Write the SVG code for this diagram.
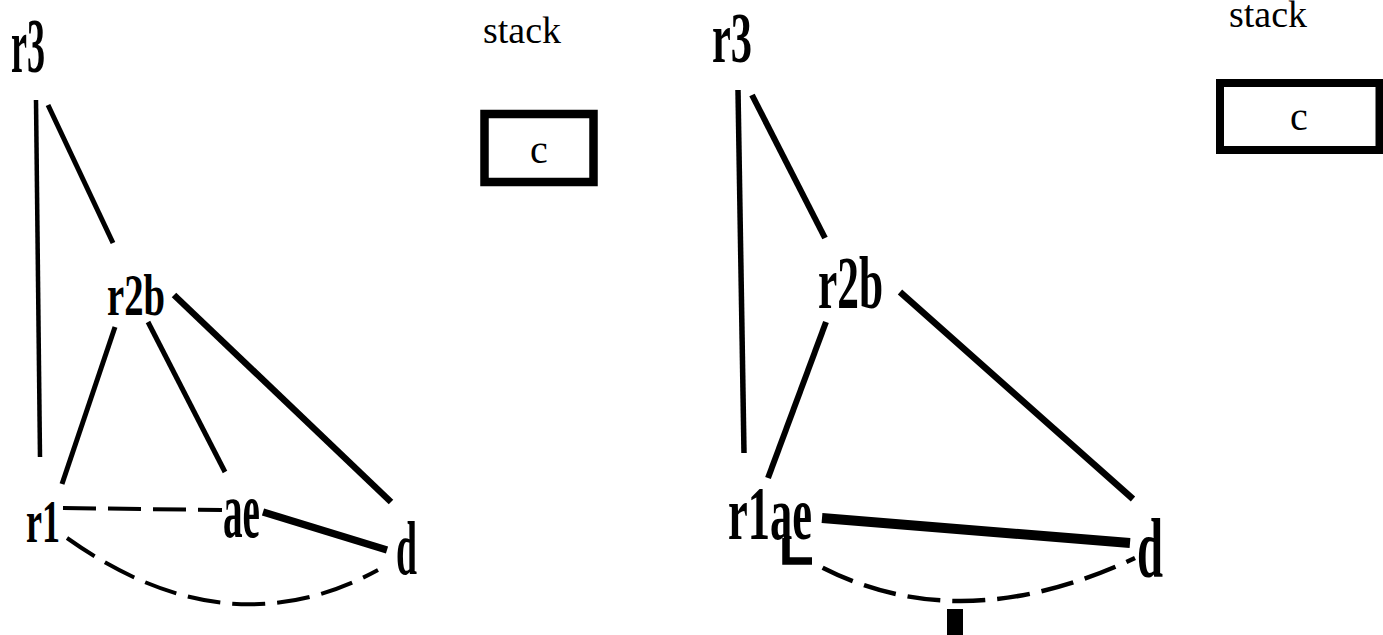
<svg xmlns="http://www.w3.org/2000/svg" width="1383" height="635" viewBox="0 0 1383 635">
<style>
.lbl{font-family:"Liberation Serif","Times New Roman",serif;font-weight:bold;fill:#000}
.txt{font-family:"Liberation Serif","Times New Roman",serif;fill:#000}
.e{stroke:#000;fill:none;stroke-linecap:butt}
.dash{stroke-dasharray:33 12}
.box{fill:#fff;stroke:#000}
</style>
<rect width="1383" height="635" fill="#fff"/>
<g id="connectors">
  <!-- left graph -->
  <line class="e" x1="36" y1="100" x2="40" y2="457" stroke-width="4.5"/>
  <line class="e" x1="48" y1="105" x2="113" y2="243" stroke-width="5"/>
  <line class="e" x1="115" y1="327" x2="62" y2="484" stroke-width="5"/>
  <line class="e" x1="148" y1="322" x2="225" y2="472" stroke-width="5"/>
  <line class="e" x1="174" y1="295" x2="391" y2="502" stroke-width="6.5"/>
  <line class="e dash" x1="63" y1="508" x2="222" y2="510" stroke-width="4"/>
  <line class="e" x1="263" y1="512" x2="387" y2="550" stroke-width="7.5"/>
  <path class="e dash" d="M67,538 Q227,652 378,570" stroke-width="4"/>
  <!-- right graph -->
  <line class="e" x1="738" y1="90" x2="744" y2="453" stroke-width="5.5"/>
  <line class="e" x1="752" y1="95" x2="825" y2="238" stroke-width="6"/>
  <line class="e" x1="826" y1="322" x2="768" y2="478" stroke-width="6"/>
  <line class="e" x1="900" y1="292" x2="1133" y2="499" stroke-width="6.5"/>
  <line class="e" x1="822" y1="518" x2="1130" y2="543" stroke-width="10"/>
  <path class="e" d="M786,538 V561 H812" stroke-width="7.5"/>
  <path class="e dash" d="M812,562 Q956,642 1135,558" stroke-width="4.5" stroke-dashoffset="-12"/>
  <rect x="947" y="609" width="16" height="26" fill="#000"/>
</g>
<g id="left-r3"><text class="lbl" x="11" y="72" font-size="78" textLength="34" lengthAdjust="spacingAndGlyphs">r3</text></g>
<g id="left-r2b"><text class="lbl" x="107" y="315" font-size="59" textLength="58" lengthAdjust="spacingAndGlyphs">r2b</text></g>
<g id="left-r1"><text class="lbl" x="26" y="542" font-size="62" textLength="34" lengthAdjust="spacingAndGlyphs">r1</text></g>
<g id="left-ae"><text class="lbl" x="223" y="537" font-size="80" textLength="37" lengthAdjust="spacingAndGlyphs">ae</text></g>
<g id="left-d"><text class="lbl" x="396" y="574" font-size="76" textLength="21" lengthAdjust="spacingAndGlyphs">d</text></g>
<g id="left-stack">
  <text class="txt" x="483" y="43" font-size="38">stack</text>
  <rect class="box" x="484.5" y="114" width="109" height="68" stroke-width="8.5"/>
  <text class="txt" x="539" y="163" font-size="40" text-anchor="middle">c</text>
</g>
<g id="right-r3"><text class="lbl" x="712" y="62" font-size="72" textLength="40" lengthAdjust="spacingAndGlyphs">r3</text></g>
<g id="right-r2b"><text class="lbl" x="818" y="308" font-size="75" textLength="65" lengthAdjust="spacingAndGlyphs">r2b</text></g>
<g id="right-r1ae"><text class="lbl" x="728" y="539" font-size="77" textLength="84" lengthAdjust="spacingAndGlyphs">r1ae</text></g>
<g id="right-d"><text class="lbl" x="1137" y="577" font-size="84" textLength="26" lengthAdjust="spacingAndGlyphs">d</text></g>
<g id="right-stack">
  <text class="txt" x="1229" y="27" font-size="38">stack</text>
  <rect class="box" x="1220" y="83" width="159.5" height="67" stroke-width="8"/>
  <text class="txt" x="1299" y="130" font-size="40" text-anchor="middle">c</text>
</g>
</svg>
